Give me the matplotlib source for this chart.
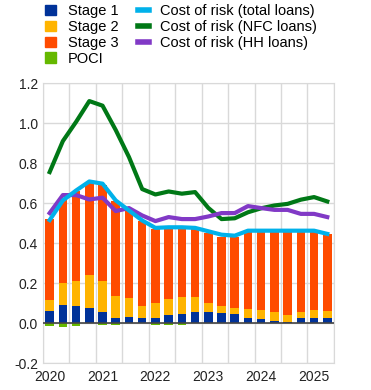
import numpy as np
import matplotlib.pyplot as plt
from matplotlib.patches import Patch
from matplotlib.lines import Line2D

plt.rcParams['font.family'] = ['Liberation Sans', 'DejaVu Sans']

# quarterly data, 2020 Q1 - 2025 Q2
quarters = [f'{y} Q{q}' for y in range(2020, 2026) for q in range(1, 5)][:22]
year_labels = ['2020', '2021', '2022', '2023', '2024', '2025']

stage1 = [0.06, 0.09, 0.085, 0.075, 0.057, 0.027, 0.032, 0.027, 0.027, 0.042, 0.047,
          0.057, 0.057, 0.05, 0.045, 0.025, 0.02, 0.01, 0.005, 0.025, 0.025, 0.025]
stage2 = [0.055, 0.11, 0.125, 0.165, 0.153, 0.11, 0.095, 0.06, 0.073, 0.078, 0.083,
          0.073, 0.043, 0.035, 0.03, 0.045, 0.045, 0.045, 0.035, 0.03, 0.04, 0.035]
stage3 = [0.405, 0.42, 0.45, 0.46, 0.48, 0.473, 0.433, 0.423, 0.37, 0.35, 0.34,
          0.34, 0.35, 0.345, 0.355, 0.385, 0.39, 0.40, 0.415, 0.40, 0.39, 0.385]
poci = [-0.013, -0.018, -0.013, 0.0, -0.008, -0.008, 0.0, 0.0, -0.008, -0.008, -0.008,
        0.0, 0.0, 0.0, 0.0, 0.0, 0.0, 0.0, 0.0, 0.0, 0.0, 0.0]

cor_total = [0.515, 0.613, 0.663, 0.708, 0.697, 0.613, 0.563, 0.513, 0.476, 0.479, 0.479,
             0.476, 0.459, 0.442, 0.437, 0.462, 0.462, 0.462, 0.462, 0.462, 0.462, 0.446]
cor_nfc = [0.755, 0.91, 1.006, 1.11, 1.087, 0.965, 0.83, 0.67, 0.643, 0.658, 0.647,
           0.655, 0.576, 0.52, 0.524, 0.554, 0.574, 0.588, 0.596, 0.617, 0.63, 0.608]
cor_hh = [0.55, 0.64, 0.64, 0.618, 0.627, 0.56, 0.575, 0.538, 0.51, 0.53, 0.52,
          0.52, 0.533, 0.55, 0.55, 0.585, 0.575, 0.566, 0.566, 0.546, 0.546, 0.53]

colors = {'s1': '#003299', 's2': '#ffb400', 's3': '#ff4b00', 'poci': '#65b800',
          'total': '#00b1ea', 'nfc': '#007816', 'hh': '#8139c6'}

x = np.arange(len(quarters))
s1 = np.array(stage1)
s2 = np.array(stage2)
s3 = np.array(stage3)

fig = plt.figure(figsize=(3.71, 3.9), dpi=100)
ax = fig.add_axes([0.116, 0.069, 0.784, 0.718])

w = 0.65
ax.bar(x, s1, w, color=colors['s1'], zorder=2)
ax.bar(x, s2, w, bottom=s1, color=colors['s2'], zorder=2)
ax.bar(x, s3, w, bottom=s1 + s2, color=colors['s3'], zorder=2)
ax.bar(x, poci, w, color=colors['poci'], zorder=2)
ax.axhline(0, color='#444444', lw=1.2, zorder=3)

ax.plot(x, cor_nfc, color=colors['nfc'], lw=3, zorder=4)
ax.plot(x, cor_hh, color=colors['hh'], lw=3, zorder=4)
ax.plot(x, cor_total, color=colors['total'], lw=3, zorder=5)

ax.set_xlim(-0.5, len(x) - 0.5)
ax.set_ylim(-0.2, 1.2)
yt = np.arange(-0.2, 1.21, 0.2)
ax.set_yticks(yt)
ax.set_yticklabels([f'{v:.1f}' for v in yt])
ax.set_xticks(np.arange(0, len(x), 4))
ax.set_xticklabels(year_labels)
ax.set_xticks(np.arange(-0.5, len(x), 2), minor=True)

ax.grid(True, axis='y', color='#d9d9d9', lw=1, zorder=0)
ax.grid(True, axis='x', which='minor', color='#d9d9d9', lw=1, zorder=0)
ax.tick_params(axis='both', which='both', length=0, labelsize=10, colors='#222222')
ax.tick_params(axis='x', pad=5)
for s in ax.spines.values():
    s.set_color('#d9d9d9')

handles = [Patch(color=colors['s1'], label='Stage 1'),
           Patch(color=colors['s2'], label='Stage 2'),
           Patch(color=colors['s3'], label='Stage 3'),
           Patch(color=colors['poci'], label='POCI'),
           Line2D([], [], color=colors['total'], lw=4, label='Cost of risk (total loans)'),
           Line2D([], [], color=colors['nfc'], lw=4, label='Cost of risk (NFC loans)'),
           Line2D([], [], color=colors['hh'], lw=4, label='Cost of risk (HH loans)')]
fig.legend(handles=handles, loc='upper left', bbox_to_anchor=(0.095, 1.015), ncol=2,
           frameon=False, fontsize=10.5, handlelength=0.75, handleheight=0.7,
           handletextpad=0.8, labelspacing=0.12, columnspacing=1.3, borderpad=0.2)

fig.savefig('out.png', dpi=100)
